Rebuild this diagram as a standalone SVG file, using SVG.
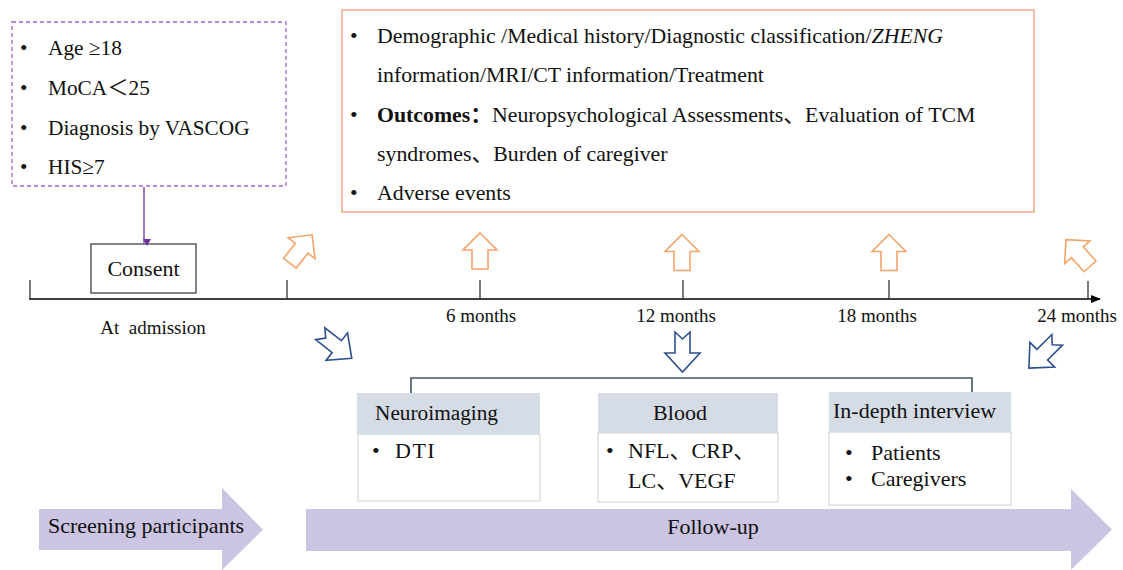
<svg xmlns="http://www.w3.org/2000/svg" width="1123" height="570" viewBox="0 0 1123 570">
<defs>
<style>
text{font-family:"Liberation Serif",serif;fill:#111;}
.cjk{font-family:"Noto Sans CJK SC",sans-serif;}
.t21{font-size:21.3px;}
.t22{font-size:22px;}
.t19{font-size:19px;}
.t20{font-size:21.8px;}
.oarr{fill:#fff;stroke:#f4a46a;stroke-width:1.6;}
.barr{fill:#fff;stroke:#2f4f8f;stroke-width:1.6;}
.tick{stroke:#333;stroke-width:1.3;}
.hdr{fill:#d6dce5;}
.body{fill:#fff;stroke:#d0d0d0;stroke-width:1;}
.big{fill:#cbc4e2;}
</style>
<path id="up" d="M0,-18 L17,-1 L8,-1 L8,18 L-8,18 L-8,-1 L-17,-1 Z"/>
<path id="dn" d="M-7.5,-20 L0,-13 L7.5,-20 L7.5,1 L17.5,1 L0,20 L-17.5,1 L-7.5,1 Z"/>
<marker id="pm" markerWidth="8" markerHeight="8" refX="4" refY="7" orient="auto-start-reverse" markerUnits="userSpaceOnUse" viewBox="0 0 8 8">
<path d="M0,0 L8,0 L4,7 Z" fill="#7030a0" transform="rotate(-90 4 4)"/>
</marker>
<marker id="tm" markerWidth="10" markerHeight="10" refX="9" refY="5" orient="auto" markerUnits="userSpaceOnUse">
<path d="M0,1 L10,5 L0,9 Z" fill="#000"/>
</marker>
</defs>
<rect width="1123" height="570" fill="#fff"/>

<g id="criteria">
<rect x="12" y="22" width="274" height="164" fill="none" stroke="#a066d3" stroke-width="1.3" stroke-dasharray="4,3"/>
<text class="t21" x="20" y="55">•</text><text class="t21" x="48" y="55">Age ≥18</text>
<text class="t21" x="20" y="95">•</text><text class="t21" x="48" y="95">MoCA<tspan class="cjk">＜</tspan>25</text>
<text class="t21" x="20" y="135">•</text><text class="t21" x="48" y="135">Diagnosis by VASCOG</text>
<text class="t21" x="20" y="174">•</text><text class="t21" x="48" y="174">HIS≥7</text>
</g>

<g id="consent">
<rect x="91" y="244" width="105" height="49" fill="#fff" stroke="#333" stroke-width="1.2"/>
<text class="t22" x="143.5" y="276" text-anchor="middle">Consent</text>
</g>

<g id="info">
<rect x="342" y="10" width="692" height="202" fill="#fff" stroke="#eb9a6e" stroke-width="1.3"/>
<text class="t20" x="350" y="43">•</text>
<text class="t20" x="377" y="43">Demographic /Medical history/Diagnostic classification/<tspan font-style="italic">ZHENG</tspan></text>
<text class="t20" x="377" y="82">information/MRI/CT information/Treatment</text>
<text class="t20" x="350" y="122">•</text>
<text class="t20" x="377" y="122"><tspan font-weight="bold">Outcomes<tspan class="cjk">：</tspan></tspan>Neuropsychological Assessments<tspan class="cjk">、</tspan>Evaluation of TCM</text>
<text class="t20" x="377" y="161">syndromes<tspan class="cjk">、</tspan>Burden of caregiver</text>
<text class="t20" x="350" y="200">•</text>
<text class="t20" x="377" y="200">Adverse events</text>
</g>

<g id="timeline">
<line x1="29" y1="299" x2="1100" y2="299" stroke="#000" stroke-width="1.6" marker-end="url(#tm)"/>
<line class="tick" x1="30" y1="280" x2="30" y2="299"/>
<line class="tick" x1="287" y1="280" x2="287" y2="299"/>
<line class="tick" x1="480" y1="280" x2="480" y2="299"/>
<line class="tick" x1="683" y1="280" x2="683" y2="299"/>
<line class="tick" x1="889" y1="280" x2="889" y2="299"/>
<line class="tick" x1="1088" y1="281" x2="1088" y2="299"/>
<text class="t19" x="153" y="334" text-anchor="middle" xml:space="preserve">At  admission</text>
<text class="t19" x="481" y="322" text-anchor="middle">6 months</text>
<text class="t19" x="676" y="322" text-anchor="middle">12 months</text>
<text class="t19" x="877" y="322" text-anchor="middle">18 months</text>
<text class="t19" x="1077" y="322" text-anchor="middle">24 months</text>
</g>

<g id="orange-arrows">
<use href="#up" class="oarr" transform="translate(301,249) rotate(38)"/>
<use href="#up" class="oarr" transform="translate(480,251)"/>
<use href="#up" class="oarr" transform="translate(682,252.5)"/>
<use href="#up" class="oarr" transform="translate(889,252.5)"/>
<use href="#up" class="oarr" transform="translate(1078,253) rotate(-42)"/>
</g>

<g id="blue-arrows">
<use href="#dn" class="barr" transform="translate(336,346) rotate(-52)"/>
<use href="#dn" class="barr" transform="translate(682.5,352)"/>
<use href="#dn" class="barr" transform="translate(1043,354) rotate(45)"/>
</g>

<g id="connectors">
<line x1="144" y1="187" x2="144" y2="243" stroke="#7030a0" stroke-width="1.3" marker-end="url(#pm)"/>
<path d="M411,393 L411,378 L972,378 L972,393" fill="none" stroke="#44546a" stroke-width="1.6"/>
</g>

<g id="neuroimaging">
<rect class="body" x="358" y="434" width="182" height="67"/>
<rect class="hdr" x="357" y="393" width="183" height="42"/>
<text class="t21" x="375" y="420">Neuroimaging</text>
<text class="t22" x="372" y="458">•</text>
<text class="t22" x="395" y="458" letter-spacing="1.5">DTI</text>
</g>

<g id="blood">
<rect class="body" x="598" y="433" width="180" height="69"/>
<rect class="hdr" x="598" y="393" width="180" height="40"/>
<text class="t22" x="680" y="420" text-anchor="middle">Blood</text>
<text class="t22" x="606" y="458">•</text>
<text class="t22" x="628" y="458">NFL<tspan class="cjk">、</tspan>CRP<tspan class="cjk">、</tspan></text>
<text class="t22" x="628" y="488">LC<tspan class="cjk">、</tspan>VEGF</text>
</g>

<g id="interview">
<rect class="body" x="829" y="432" width="182" height="73"/>
<rect class="hdr" x="829" y="392" width="182" height="40"/>
<text class="t22" x="833" y="418">In-depth interview</text>
<text class="t22" x="845" y="460">•</text>
<text class="t22" x="871" y="460">Patients</text>
<text class="t22" x="845" y="486">•</text>
<text class="t22" x="871" y="486">Caregivers</text>
</g>

<g id="screening">
<path class="big" d="M39,509 L222,509 L222,488 L263,529.5 L222,570 L222,550 L39,550 Z"/>
<text class="t22" x="48" y="533">Screening participants</text>
</g>

<g id="followup">
<path class="big" d="M306,509 L1071,509 L1071,489 L1112,529.5 L1071,570 L1071,551 L306,551 Z"/>
<text class="t22" x="713" y="534" text-anchor="middle">Follow-up</text>
</g>
</svg>
